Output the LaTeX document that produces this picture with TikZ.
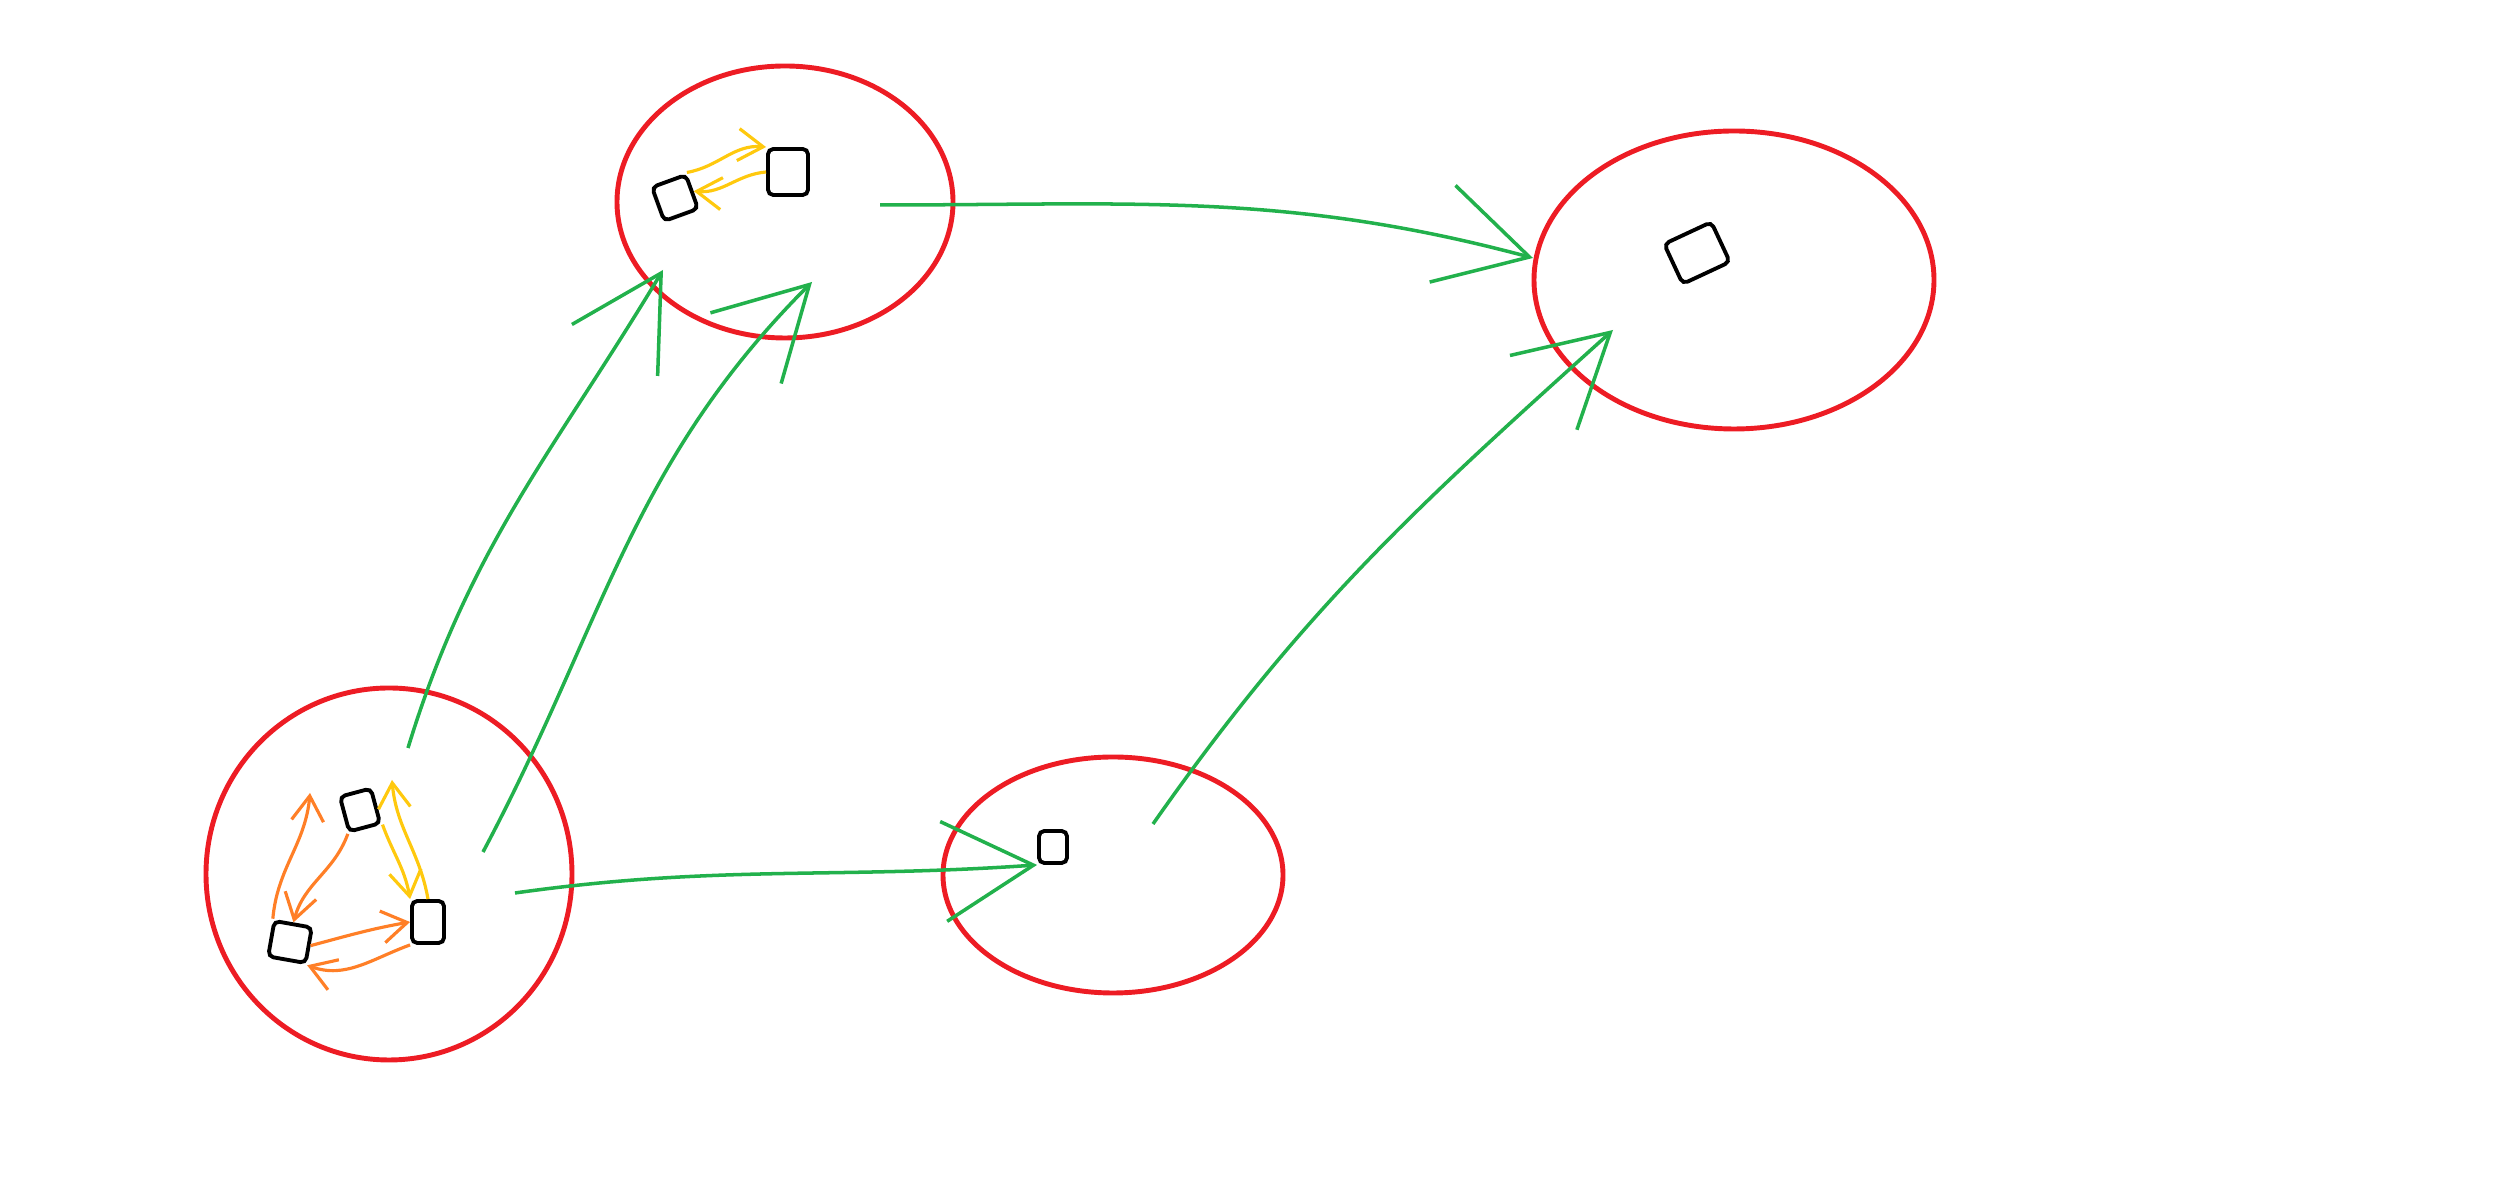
\documentclass[tikz,border=0pt]{standalone}
\usepackage{tikz}
\usetikzlibrary{shapes,arrows.meta,positioning,calc}

\definecolor{paintred}{RGB}{237,28,36}
\definecolor{paintgreen}{RGB}{34,177,76}
\definecolor{paintorange}{RGB}{255,127,39}
\definecolor{paintyellow}{RGB}{255,201,14}

\begin{document}
\begin{tikzpicture}[
    grp/.style={ellipse, draw=paintred, line width=1.4pt, inner sep=0pt},
    gem/.style={draw=black, line width=1.1pt, rounded corners=1.5pt, inner sep=0pt, minimum width=3.2mm, minimum height=3.6mm},
    link/.style={draw=paintgreen, line width=1pt, -{Straight Barb[length=9mm,width=10mm]}},
    pass/.style={draw=paintorange, line width=0.9pt, -{Straight Barb[length=2.5mm,width=3.2mm]}},
    hop/.style={draw=paintyellow, line width=0.9pt, -{Straight Barb[length=2.5mm,width=3.2mm]}}
]
    \useasboundingbox (0,0) rectangle (25.10,11.95);

    % Groups
    \node[grp, minimum width=3.66cm, minimum height=3.72cm] (cluL) at (3.89,3.21) {};
    \node[grp, minimum width=3.36cm, minimum height=2.72cm] (cluT) at (7.85,9.93) {};
    \node[grp, minimum width=4.00cm, minimum height=2.98cm] (cluR) at (17.34,9.15) {};
    \node[grp, minimum width=3.40cm, minimum height=2.36cm] (cluM) at (11.13,3.20) {};

    % Members
    \node[gem, rotate=15] (gemA) at (3.60,3.85) {};
    \node[gem, minimum height=4.2mm] (gemB) at (4.28,2.73) {};
    \node[gem, minimum width=3.8mm, rotate=-10] (gemC) at (2.90,2.53) {};
    \node[gem, minimum width=3.6mm, rotate=20] (gemD) at (6.75,9.97) {};
    \node[gem, minimum width=4mm, minimum height=4.6mm] (gemE) at (7.88,10.23) {};
    \node[gem, minimum width=5.2mm, minimum height=4.4mm, rotate=25] (gemF) at (16.97,9.42) {};
    \node[gem, minimum width=2.8mm, minimum height=3.2mm] (gemG) at (10.53,3.48) {};

    % Free ends of the links
    \coordinate (lA) at (5.15,3.02);
    \coordinate (lB) at (4.08,4.47);
    \coordinate (lC) at (4.83,3.43);
    \coordinate (tB) at (6.63,9.25);
    \coordinate (tC) at (8.12,9.13);
    \coordinate (lD) at (8.80,9.90);
    \coordinate (tD) at (15.33,9.37);
    \coordinate (lE) at (11.53,3.71);
    \coordinate (tE) at (16.13,8.65);

    % Links between groups
    \draw[link] (lA) to[out=8, in=184] (gemG.south west);
    \draw[link] (lB) to[out=73, in=239] (tB);
    \draw[link] (lC) to[out=62, in=225] (tC);
    \draw[link] (lD) to[out=0, in=165] (tD);
    \draw[link] (lE) to[out=55, in=222] (tE);

    % Moves inside the lower left group
    \coordinate (oUp) at (3.10,4.02);
    \coordinate (yUp) at (3.92,4.15);
    \draw[pass] (gemC.north west) to[out=85, in=265] (oUp);
    \draw[pass] (gemA.south west) to[out=250, in=75] (gemC.north);
    \draw[pass] (gemC.east) to[out=15, in=190] (gemB.west);
    \draw[pass] (gemB.south west) to[out=200, in=-20] (gemC.south east);
    \draw[hop] (gemA.south east) to[out=-70, in=100] (gemB.north west);
    \draw[hop] (gemB.north) to[out=100, in=-85] (yUp);

    % Moves inside the upper group
    \draw[hop] (gemD.north east) to[out=10, in=175] (gemE.north west);
    \draw[hop] (gemE.west) to[out=185, in=-5] (gemD.east);
\end{tikzpicture}
\end{document}
